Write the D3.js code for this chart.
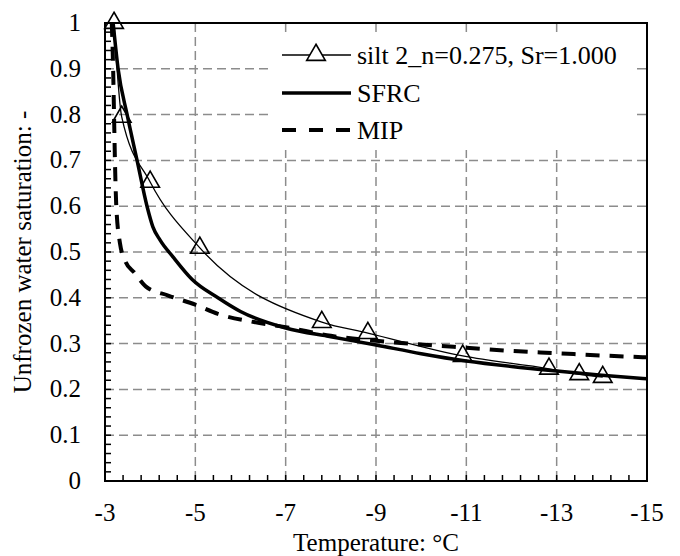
<!DOCTYPE html>
<html>
<head>
<meta charset="utf-8">
<script src="https://cdn.jsdelivr.net/npm/d3@7"></script>
<style>
  body { margin: 0; background: #fff; }
</style>
</head>
<body>
<svg id="chart" width="680" height="556"></svg>
<script>
// measured points, silt 2 (n=0.275, Sr=1.000)
const siltT = [-3.2, -3.37, -4.0, -5.1, -7.8, -8.82, -10.92, -12.83, -13.5, -14.02];
const siltS = [1.0, 0.795, 0.653, 0.509, 0.347, 0.323, 0.273, 0.245, 0.233, 0.227];

// SFRC curve
const sfrcT = [-3.18, -3.29, -3.49, -3.71, -3.93, -4.06, -4.22, -4.5, -4.93, -5.5, -6, -7, -8, -9, -10, -11, -12, -13, -14, -15];
const sfrcS = [1.0, 0.9, 0.8, 0.7, 0.6, 0.555, 0.526, 0.49, 0.44, 0.40, 0.37, 0.334, 0.315, 0.297, 0.278, 0.262, 0.25, 0.24, 0.231, 0.223];

// MIP curve
const mipT = [-3.15, -3.18, -3.2, -3.22, -3.25, -3.33, -3.45, -3.65, -3.9, -4.4, -5.0, -5.5, -6.3, -7, -8, -9, -10, -11, -12, -13, -14, -15];
const mipS = [1.0, 0.9, 0.8, 0.7, 0.6, 0.52, 0.48, 0.455, 0.425, 0.405, 0.385, 0.365, 0.347, 0.336, 0.317, 0.306, 0.298, 0.291, 0.284, 0.279, 0.274, 0.27];

const xTicks = [-3, -5, -7, -9, -11, -13, -15];
const yTicks = [0, 0.1, 0.2, 0.3, 0.4, 0.5, 0.6, 0.7, 0.8, 0.9, 1];
const legendLabels = ["silt 2_n=0.275, Sr=1.000", "SFRC", "MIP"];

const FONT = "'Liberation Serif', 'Times New Roman', Tinos, 'DejaVu Serif', serif";
const svg = d3.select("#chart");
const m = { left: 105, right: 647, top: 23, bottom: 481 };
const x = d3.scaleLinear().domain([-3, -15]).range([m.left, m.right]);
const y = d3.scaleLinear().domain([0, 1]).range([m.bottom, m.top]);
const fs = 25;

// grid
svg.append("g").selectAll("line").data(xTicks.slice(1, -1)).enter().append("line")
  .attr("x1", d => x(d)).attr("x2", d => x(d)).attr("y1", m.top).attr("y2", m.bottom)
  .attr("stroke", "#8c8c8c").attr("stroke-width", 1.5).attr("stroke-dasharray", "9,5");
svg.append("g").selectAll("line").data(yTicks.slice(1, -1)).enter().append("line")
  .attr("x1", m.left).attr("x2", m.right).attr("y1", d => y(d)).attr("y2", d => y(d))
  .attr("stroke", "#8c8c8c").attr("stroke-width", 1.5).attr("stroke-dasharray", "9,5");

// legend background hides grid
svg.append("rect").attr("x", 268).attr("y", 36).attr("width", 368).attr("height", 114).attr("fill", "#fff");

// minor ticks
const xMinor = d3.range(0, 31).map(i => -3 - i * 0.4);
const yMinor = d3.range(0, 51).map(i => i * 0.02);
svg.append("g").selectAll("line").data(xMinor).enter().append("line")
  .attr("x1", d => x(d)).attr("x2", d => x(d)).attr("y1", m.bottom).attr("y2", m.bottom - 6)
  .attr("stroke", "#000").attr("stroke-width", 1.5);
svg.append("g").selectAll("line").data(yMinor).enter().append("line")
  .attr("x1", m.left).attr("x2", m.left + 6).attr("y1", d => y(d)).attr("y2", d => y(d))
  .attr("stroke", "#000").attr("stroke-width", 1.5);

// frame
svg.append("rect").attr("x", m.left).attr("y", m.top)
  .attr("width", m.right - m.left).attr("height", m.bottom - m.top)
  .attr("fill", "none").attr("stroke", "#000").attr("stroke-width", 2);

// tick labels
svg.append("g").selectAll("text").data(xTicks).enter().append("text")
  .attr("x", d => x(d)).attr("y", 521).attr("text-anchor", "middle")
  .attr("font-family", FONT).attr("font-size", fs).text(d => d);
svg.append("g").selectAll("text").data(yTicks).enter().append("text")
  .attr("x", 81).attr("y", d => y(d) + 8).attr("text-anchor", "end")
  .attr("font-family", FONT).attr("font-size", fs).text(d => d);

// axis titles
svg.append("text").attr("x", (m.left + m.right) / 2).attr("y", 551).attr("text-anchor", "middle")
  .attr("font-family", FONT).attr("font-size", fs).text("Temperature: °C");
svg.append("text").attr("transform", `translate(31,${(m.top + m.bottom) / 2}) rotate(-90)`)
  .attr("text-anchor", "middle").attr("font-family", FONT).attr("font-size", fs)
  .text("Unfrozen water saturation: -");

// curves
const line = d3.line().x(d => x(d[0])).y(d => y(d[1])).curve(d3.curveMonotoneX);
svg.append("path").datum(d3.zip(mipT, mipS)).attr("d", line)
  .attr("fill", "none").attr("stroke", "#000").attr("stroke-width", 4).attr("stroke-dasharray", "14,10");
svg.append("path").datum(d3.zip(sfrcT, sfrcS)).attr("d", line)
  .attr("fill", "none").attr("stroke", "#000").attr("stroke-width", 3.5);
svg.append("path").datum(d3.zip(siltT, siltS)).attr("d", line)
  .attr("fill", "none").attr("stroke", "#000").attr("stroke-width", 1.3);

const tri = d3.symbol().type(d3.symbolTriangle).size(150);
svg.append("g").selectAll("path").data(d3.zip(siltT, siltS)).enter().append("path")
  .attr("d", tri).attr("transform", d => `translate(${x(d[0])},${y(d[1])})`)
  .attr("fill", "none").attr("stroke", "#000").attr("stroke-width", 1.6);

// legend
const ly = [55, 93, 130];
const lg = svg.append("g");
lg.append("line").attr("x1", 282).attr("x2", 351).attr("y1", ly[0]).attr("y2", ly[0])
  .attr("stroke", "#000").attr("stroke-width", 1.3);
lg.append("path").attr("d", tri).attr("transform", `translate(316,${ly[0]})`)
  .attr("fill", "#fff").attr("stroke", "#000").attr("stroke-width", 1.6);
lg.append("line").attr("x1", 282).attr("x2", 351).attr("y1", ly[1]).attr("y2", ly[1])
  .attr("stroke", "#000").attr("stroke-width", 3.5);
lg.append("line").attr("x1", 282).attr("x2", 351).attr("y1", ly[2]).attr("y2", ly[2])
  .attr("stroke", "#000").attr("stroke-width", 4).attr("stroke-dasharray", "14,13");
lg.selectAll("text").data(legendLabels).enter().append("text")
  .attr("x", 357).attr("y", (d, i) => ly[i] + 9)
  .attr("font-family", FONT).attr("font-size", 26).text(d => d);
</script>
</body>
</html>
